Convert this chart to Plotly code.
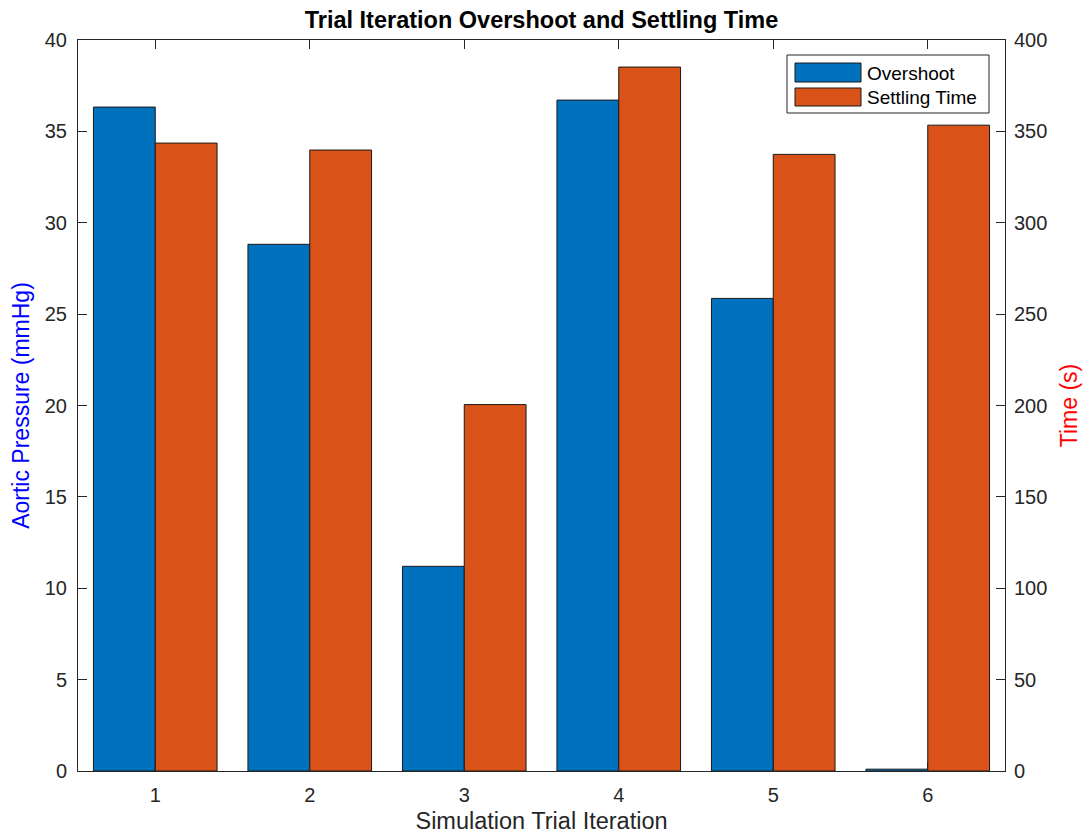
import plotly.graph_objects as go

iterations = [1, 2, 3, 4, 5, 6]
overshoot = [36.33, 28.82, 11.2, 36.71, 25.86, 0.1]
settling_time = [343.6, 339.8, 200.5, 385.2, 337.4, 353.4]
series_names = ["Overshoot", "Settling Time"]

blue = "#0072BD"
orange = "#D95319"
axc = "#262626"
font = "Liberation Sans, Arial, Helvetica, sans-serif"

W, H = 1091, 834
ML, MR, MT, MB = 78, 86, 40, 63
PW, PH = W - ML - MR, H - MT - MB


def px(x):
    return (x - ML) / PW


def py(y):
    return (H - MB - y) / PH


fig = go.Figure()
fig.add_trace(go.Bar(
    x=iterations, y=overshoot, name=series_names[0],
    marker=dict(color=blue, line=dict(color="#1a1a1a", width=1)),
    width=0.4, offset=-0.4, yaxis="y", showlegend=False,
))
fig.add_trace(go.Bar(
    x=iterations, y=settling_time, name=series_names[1],
    marker=dict(color=orange, line=dict(color="#1a1a1a", width=1)),
    width=0.4, offset=0.0, yaxis="y2", showlegend=False,
))

# Legend (MATLAB style with wide swatches)
shapes = [
    dict(type="rect", xref="paper", yref="paper", x0=px(787), x1=px(989), y0=py(113), y1=py(55),
         line=dict(color=axc, width=1), fillcolor="white", layer="above"),
    dict(type="rect", xref="paper", yref="paper", x0=px(795), x1=px(861), y0=py(82), y1=py(63),
         line=dict(color="#1a1a1a", width=1), fillcolor=blue, layer="above"),
    dict(type="rect", xref="paper", yref="paper", x0=px(795), x1=px(861), y0=py(106), y1=py(88),
         line=dict(color="#1a1a1a", width=1), fillcolor=orange, layer="above"),
]
annotations = [
    dict(text=series_names[0], xref="paper", yref="paper", x=px(865), y=py(73),
         xanchor="left", yanchor="middle", showarrow=False, font=dict(size=19, color="black")),
    dict(text=series_names[1], xref="paper", yref="paper", x=px(865), y=py(97),
         xanchor="left", yanchor="middle", showarrow=False, font=dict(size=19, color="black")),
]

fig.update_layout(
    width=W, height=H,
    margin=dict(l=ML, r=MR, t=MT, b=MB, autoexpand=False),
    paper_bgcolor="white", plot_bgcolor="white",
    font=dict(family=font, size=20, color=axc),
    title=dict(text="<b>Trial Iteration Overshoot and Settling Time</b>",
               x=0.5, xref="paper", xanchor="center",
               y=1 - 20 / H, yref="container", yanchor="middle",
               font=dict(size=23.5, color="black")),
    xaxis=dict(range=[0.5, 6.5], tickvals=iterations, ticktext=[str(i) for i in iterations],
               showline=True, linecolor=axc, linewidth=1, mirror="ticks",
               ticks="inside", ticklen=9, tickcolor=axc, showgrid=False, zeroline=False,
               ticklabelstandoff=6, automargin=False,
               title=dict(text="Simulation Trial Iteration", font=dict(size=23.5, color=axc), standoff=8)),
    yaxis=dict(range=[0, 40], dtick=5, showline=True, linecolor=axc, linewidth=1,
               ticks="inside", ticklen=9, tickcolor=axc, showgrid=False, zeroline=False,
               ticklabelstandoff=6, automargin=False,
               title=dict(text="Aortic Pressure (mmHg)", font=dict(size=23, color="blue"), standoff=8)),
    yaxis2=dict(range=[0, 400], dtick=50, overlaying="y", side="right",
                showline=True, linecolor=axc, linewidth=1,
                ticks="inside", ticklen=9, tickcolor=axc, showgrid=False, zeroline=False,
                ticklabelstandoff=4, automargin=False,
                title=dict(text="Time (s)", font=dict(size=23, color="red"), standoff=14)),
    shapes=shapes,
    annotations=annotations,
    showlegend=False,
    barmode="overlay",
)

fig.write_html("out.html")
